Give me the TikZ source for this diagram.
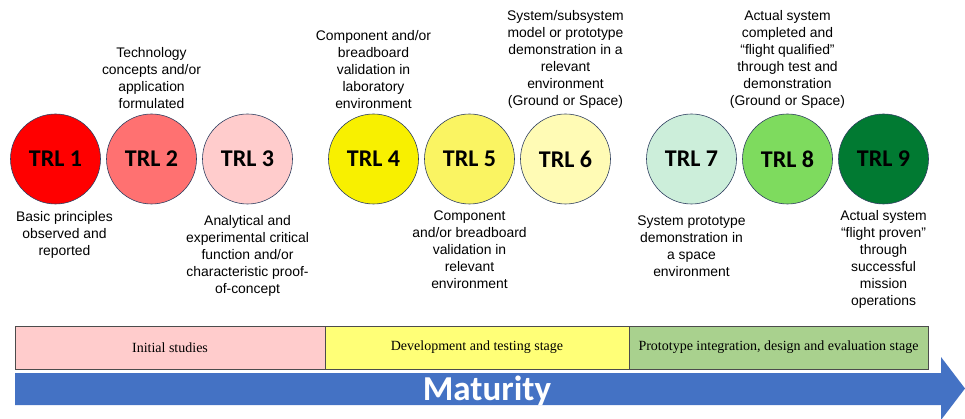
\documentclass[tikz,border=0pt]{standalone}
\usepackage{fontspec}
\setmainfont{Liberation Sans}
\newfontfamily\calibrifont{Carlito}
\newfontfamily\timesfont{Liberation Serif}
\usetikzlibrary{positioning}

\definecolor{redA}{HTML}{FF0000}
\definecolor{redB}{HTML}{FF7171}
\definecolor{redC}{HTML}{FFCCCC}
\definecolor{yelA}{HTML}{F8F000}
\definecolor{yelB}{HTML}{FAF462}
\definecolor{yelC}{HTML}{FFFBB5}
\definecolor{grnA}{HTML}{CCEEDA}
\definecolor{grnB}{HTML}{7EDB5E}
\definecolor{grnC}{HTML}{017A32}
\definecolor{edgeblue}{HTML}{2F3F60}
\definecolor{stagepink}{HTML}{FFCCCC}
\definecolor{stageyellow}{HTML}{FFFF77}
\definecolor{stagegreen}{HTML}{A9D18E}
\definecolor{arrowblue}{HTML}{4472C4}

\begin{document}
\begin{tikzpicture}
  [x=1pt,y=-1pt,node distance=96pt,
   trl/.style={circle,draw=edgeblue,line width=0.6pt,minimum size=90pt,inner sep=0pt,
     font=\calibrifont\bfseries\fontsize{24}{24}\selectfont},
   note/.style={align=center,inner sep=0pt,font=\fontsize{13.9}{17}\selectfont},
   stagebox/.style={draw=black!70,line width=0.6pt,minimum height=43pt,inner sep=0pt,
     outer sep=0pt,font=\timesfont\fontsize{14}{14}\selectfont}]

  \useasboundingbox (0,0) rectangle (965,419);

  % the nine levels
  \node[trl,fill=redA] (t1) at (55.5,159) {TRL 1};
  \node[trl,fill=redB] (t2) [right of=t1] {TRL 2};
  \node[trl,fill=redC] (t3) [right of=t2] {TRL 3};
  \node[trl,fill=yelA] (t4) [right of=t3,xshift=30pt] {TRL 4};
  \node[trl,fill=yelB] (t5) [right of=t4] {TRL 5};
  \node[trl,fill=yelC] (t6) [right of=t5] {TRL 6};
  \node[trl,fill=grnA] (t7) [right of=t6,xshift=30pt] {TRL 7};
  \node[trl,fill=grnB] (t8) [right of=t7] {TRL 8};
  \node[trl,fill=grnC] (t9) [right of=t8] {TRL 9};

  % descriptions above
  \node[note] (d2) [above=5pt of t2] {Technology\\concepts and/or\\application\\formulated};
  \node[note] (d4) [above=5pt of t4] {Component and/or\\breadboard\\validation in\\laboratory\\environment};
  \node[note] (d6) [above=5pt of t6] {System/subsystem\\model or prototype\\demonstration in a\\relevant\\environment\\(Ground or Space)};
  \node[note] (d8) [above=5pt of t8] {Actual system\\completed and\\“flight qualified”\\through test and\\demonstration\\(Ground or Space)};

  % descriptions below
  \node[note] (d1) [below=7pt of t1,xshift=9pt] {Basic principles\\observed and\\reported};
  \node[note] (d3) [below=11pt of t3] {Analytical and\\experimental critical\\function and/or\\characteristic proof-\\of-concept};
  \node[note] (d5) [below=6pt of t5] {Component\\and/or breadboard\\validation in\\relevant\\environment};
  \node[note] (d7) [below=11pt of t7] {System prototype\\demonstration in\\a space\\environment};
  \node[note] (d9) [below=6pt of t9] {Actual system\\“flight proven”\\through\\successful\\mission\\operations};

  % stages
  \node[stagebox,fill=stagepink,minimum width=310pt] (s1) at (170,347.5) {Initial studies};
  \node[stagebox,fill=stageyellow,minimum width=304pt] (s2) [right=0pt of s1] {Development and testing stage};
  \node[stagebox,fill=stagegreen,minimum width=299pt] (s3) [right=0pt of s2] {Prototype integration, design and evaluation stage};

  % maturity arrow
  \fill[arrowblue] (15,373) -- (941,373) -- (941,357) -- (965,388.5) -- (941,420)
    -- (941,405) -- (15,405) -- cycle;
  \node[anchor=base,text=white,font=\calibrifont\bfseries\fontsize{35}{35}\selectfont]
    (mat) at (487,400) {Maturity};
\end{tikzpicture}
\end{document}
